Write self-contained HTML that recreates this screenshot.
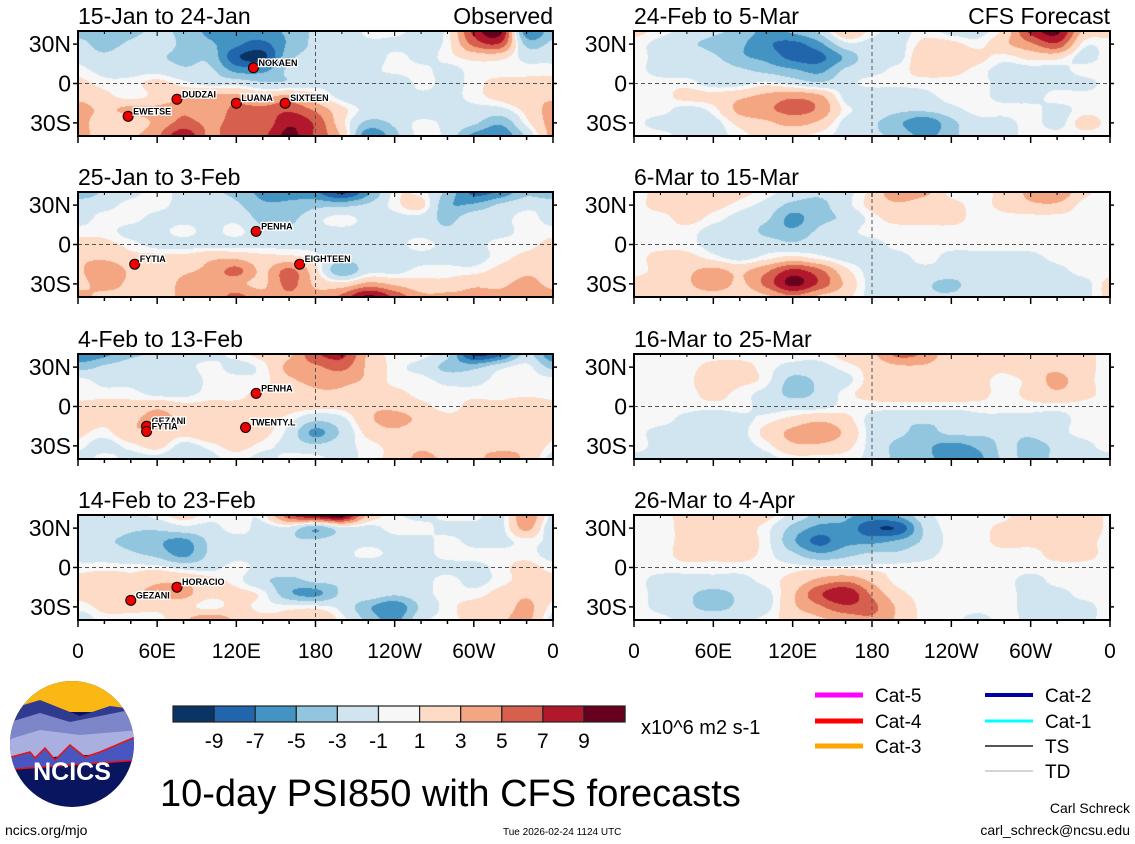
<!DOCTYPE html>
<html><head><meta charset="utf-8">
<style>
body{margin:0;background:#fff;width:1135px;height:844px;overflow:hidden;position:relative;font-family:"Liberation Sans",sans-serif}
canvas{position:absolute}
svg{position:absolute;left:0;top:0}
</style></head><body>
<div id="maps"></div>
<svg id="ov" width="1135" height="844"></svg>
<script>
// ---- data: PSI850 anomaly grids, rows lat 40N..40S step 10, cols lon 0..340 step 20 ----
const lonTicks=["0","60E","120E","180","120W","60W","0"];
const latTicks=["30N","0","30S"];
const titles=["15-Jan to 24-Jan","25-Jan to 3-Feb","4-Feb to 13-Feb","14-Feb to 23-Feb","24-Feb to 5-Mar","6-Mar to 15-Mar","16-Mar to 25-Mar","26-Mar to 4-Apr"];
const levels=[-9,-7,-5,-3,-1,1,3,5,7,9];
const levelColors=["#0b3466","#2166ac","#4393c3","#92c5de","#d1e5f0","#f7f7f7","#fddbc7","#f4a582","#d6604d","#b2182b","#67001f"];
const p1=[
[-3,-3,-3,-2,-3,-5,-6,-5,-4,-2,-2,0,0,-1,0,7,9,-6],
[-2,-3,-2,-1,-3,-4,-6,-7,-4,-2,-2,-1,-1,-1,0,5,6,-3],
[-1,-2,-1,-2,-3,-3,-8,-9,-3,-2,-2,-2,0,-1,0,1,1,-1],
[0,-1,-1,-1,-2,-2,-5,-5,-2,-2,-1,-1,0,0,-1,0,0,0],
[1,0,0,1,0,-1,-1,-2,-2,-1,-1,-1,-2,0,-1,0,1,1],
[2,1,0,1,2,3,3,2,3,1,-1,-2,-1,-1,-1,0,1,2],
[3,2,3,3,4,3,5,5,6,4,1,-1,-1,-2,-1,-1,-1,1],
[3,1,1,3,5,4,5,5,8,6,1,-3,-2,0,-1,-2,-4,0],
[3,1,2,4,8,4,6,6,9,6,2,-6,-3,0,-1,-5,-6,-2]];
const p2=[
[-4,-2,-1,0,-1,-2,-3,-5,-5,-6,-9,-5,0,0,-3,-7,-6,-3],
[-1,-1,0,0,-1,-1,-2,-4,-4,-3,-3,-2,0,1,-4,-4,-2,-1],
[-1,0,0,-1,-1,-1,-1,-3,-3,-1,0,-1,-1,-1,-3,-1,-1,0],
[0,0,-1,-1,0,-1,0,-2,-2,-1,-1,-1,-1,-1,-2,-1,-1,0],
[1,1,0,-1,-1,-1,-1,-1,-1,-1,-2,-1,-1,0,-1,-1,0,0],
[2,2,1,1,1,2,2,1,1,0,-2,-1,-1,-1,-1,-1,0,1],
[2,4,2,1,2,3,5,2,5,1,-4,-1,-1,0,0,0,1,2],
[2,3,2,1,3,4,3,2,5,2,1,3,2,1,1,2,2,3],
[3,2,2,1,3,3,5,3,4,3,5,9,6,3,3,3,3,4]];
const p3=[
[-6,-5,-3,-2,-1,-1,0,1,2,6,7,2,0,0,-2,-9,-7,-2],
[-3,-2,-1,-1,-1,0,-1,0,3,4,5,2,0,-1,-3,-3,-1,0],
[0,-1,-1,-2,-2,0,0,0,2,3,3,2,0,0,-1,-1,0,0],
[0,0,0,-1,-1,0,0,1,1,2,2,1,1,0,0,0,0,0],
[1,1,1,2,1,1,1,1,1,1,1,2,2,1,0,1,1,2],
[2,1,2,3,2,2,2,1,0,-2,-1,2,3,2,1,1,2,2],
[1,0,2,2,1,2,2,1,-1,-5,-2,1,2,1,1,1,2,2],
[0,-1,0,1,-1,0,1,0,-1,-2,-1,0,1,2,1,2,2,2],
[-1,0,-1,-1,-2,-1,0,-1,0,0,-1,0,1,3,2,2,3,2]];
const p4=[
[-1,-1,-1,0,1,0,0,0,6,9,10,2,0,-1,0,0,-1,4],
[-2,-1,-2,-2,-1,-1,0,-1,-1,-4,-1,-1,0,0,-1,-1,-1,3],
[-1,-2,-3,-4,-5,-2,-1,-1,-2,-2,-1,-1,-1,-1,0,-1,-1,0],
[-1,-1,-2,-3,-5,-2,-1,-1,-1,-1,-1,0,-1,-1,0,0,0,0],
[0,0,0,0,-1,-1,0,-1,-1,-1,-1,-2,-2,-1,-1,-1,0,1],
[1,2,1,2,2,1,0,-2,-3,-2,-2,-2,-1,-1,0,-1,0,1],
[1,2,2,3,3,1,1,0,-4,-5,-2,-1,-2,-1,0,0,1,2],
[0,1,1,1,1,0,1,0,0,0,-1,-4,-6,-2,0,1,1,3],
[-1,0,0,0,2,4,2,1,1,2,0,-3,-5,-1,0,1,2,3]];
const p5=[
[1,0,-1,-2,-3,-5,-4,-2,2,0,-1,0,-1,-1,1,7,9,2],
[0,-1,-2,-3,-4,-6,-7,-5,-1,-1,-1,1,1,0,2,4,6,0],
[0,-1,-1,-2,-4,-5,-7,-7,-4,-1,-1,2,2,1,0,1,1,-1],
[0,-1,-1,-1,-2,-3,-4,-5,-2,-1,0,1,1,0,-1,-1,-1,0],
[0,0,0,-1,-1,0,-1,-2,-1,0,0,0,0,0,-1,-1,-1,-1],
[0,0,1,1,2,3,4,3,-1,-2,-2,-1,0,0,-1,-1,0,0],
[0,0,-1,0,3,4,5,4,0,-1,-2,-2,-1,0,0,0,-1,0],
[0,-1,-1,-1,1,2,3,2,-1,-2,-4,-6,-3,-1,-1,0,-1,1],
[0,0,-1,-1,0,1,1,0,-1,-2,-3,-5,-3,-1,-1,0,0,0]];
const p6=[
[0,1,1,2,1,0,-1,-2,-1,1,4,3,0,0,1,3,4,1],
[0,1,1,1,0,-1,-3,-3,-1,1,2,1,1,0,1,2,2,0],
[0,0,1,0,-1,-2,-5,-3,-2,0,1,1,1,0,0,0,0,0],
[0,0,0,-1,-1,-3,-4,-2,-1,0,0,0,0,0,0,0,0,0],
[0,0,0,-1,-1,-1,-2,-1,-1,-1,0,0,0,0,0,0,0,0],
[0,1,1,0,-1,0,1,0,-1,-1,-1,0,-1,-1,-1,-1,0,0],
[0,1,2,3,2,4,7,5,1,-1,-1,-1,-1,-1,-1,-2,-1,0],
[1,1,2,4,2,5,9,6,2,-1,-1,-2,-3,-1,-1,-1,-1,-1],
[1,1,1,1,1,2,4,2,1,-1,-1,-2,-2,-1,-1,-1,-1,-1]];
const p7=[
[0,0,0,0,0,0,0,0,1,2,5,4,1,1,2,2,2,1],
[0,0,0,1,1,0,-1,-1,0,1,2,2,1,1,1,2,2,1],
[0,0,0,2,1,0,-3,-2,-1,1,1,1,1,1,0,1,3,1],
[0,0,0,1,0,-1,-3,-2,0,1,1,1,1,1,0,1,2,1],
[0,0,0,0,0,-1,-1,-1,0,0,0,0,0,0,0,0,0,0],
[0,0,-1,-2,-1,0,1,2,1,-1,-2,-2,-2,-1,-1,-1,-1,0],
[0,-1,-1,-2,-1,1,3,4,2,-1,-2,-3,-2,-2,-2,-2,-1,0],
[0,-1,-1,-1,-1,0,2,2,1,-1,-3,-4,-5,-4,-2,-3,-2,-1],
[-1,-1,-1,-1,-1,-1,0,0,0,-1,-3,-4,-5,-5,-2,-3,-2,-1]];
const p8=[
[0,0,1,1,1,1,-1,-3,-4,-5,-4,-1,0,0,0,2,2,2],
[0,0,1,2,1,0,-3,-5,-5,-8,-8,-2,0,0,1,2,2,2],
[0,0,1,2,1,0,-4,-7,-5,-5,-4,-2,0,0,1,1,1,1],
[0,0,1,1,1,0,-2,-4,-3,-2,-2,-1,0,0,0,0,1,1],
[0,0,0,0,0,0,0,0,0,0,0,0,0,0,0,0,0,0],
[0,-1,-1,-1,-1,0,1,3,4,2,0,0,0,0,0,-1,0,0],
[0,-1,-2,-3,-2,-1,2,6,8,4,1,0,0,0,0,-1,-1,0],
[0,-1,-2,-3,-2,-1,2,4,6,5,2,0,0,0,0,-1,-1,-1],
[0,0,-1,-1,-1,0,1,2,3,4,2,0,0,-1,0,-1,-2,-1]];
const grids=[p1,p2,p3,p4,p5,p6,p7,p8];
const storms=[[0,"NOKAEN",133,12],[0,"DUDZAI",75,-12],[0,"LUANA",120,-15],[0,"SIXTEEN",157,-15],[0,"EWETSE",38,-25],
[1,"PENHA",135,10],[1,"FYTIA",43,-15],[1,"EIGHTEEN",168,-15],
[2,"PENHA",135,10],[2,"GEZANI",52,-15],[2,"FYTIA",52,-19],[2,"TWENTY.L",127,-16],
[3,"HORACIO",75,-15],[3,"GEZANI",40,-25]];

const cols=[78,634], tops=[31,192,354,515], W=[475,476], H=105;
function panelGeom(i){return {x:cols[i<4?0:1], y:tops[i%4], w:W[i<4?0:1], h:H};}
function lonX(g,lon){return g.x+lon/360*g.w;}
function latY(g,lat){return g.y+(40-lat)/80*g.h;}
function cr(p0,p1,p2,p3,t){return 0.5*((2*p1)+(-p0+p2)*t+(2*p0-5*p1+4*p2-p3)*t*t+(-p0+3*p1-3*p2+p3)*t*t*t);}
function hex(c){return [parseInt(c.slice(1,3),16),parseInt(c.slice(3,5),16),parseInt(c.slice(5,7),16)];}
const rgb=levelColors.map(hex);
function sample(G,gx,gy){
  const nx=G[0].length, ny=G.length;
  const ix=Math.floor(gx), iy=Math.floor(gy), tx=gx-ix, ty=gy-iy;
  const row=r=>{r=Math.max(0,Math.min(ny-1,r));const R=G[r];const f=c=>R[((c%nx)+nx)%nx];
    return cr(f(ix-1),f(ix),f(ix+1),f(ix+2),tx);};
  return cr(row(iy-1),row(iy),row(iy+1),row(iy+2),ty);
}
const maps=document.getElementById('maps');
grids.forEach((G,i)=>{
  const g=panelGeom(i);
  const cv=document.createElement('canvas');
  
  
  cv.width=g.w;cv.height=g.h;cv.style.left=g.x+'px';cv.style.top=g.y+'px';
  const ctx=cv.getContext('2d');const im=ctx.createImageData(g.w,g.h);
  for(let py=0;py<g.h;py++){const gy=(py+0.5)/g.h*(G.length-1);
    for(let px=0;px<g.w;px++){const gx=(px+0.5)/g.w*G[0].length;
      let v=sample(G,gx,gy);v=v+0.6*Math.tanh(v*3);
      let k=0;while(k<levels.length&&v>=levels[k])k++;
      const c=rgb[k],o=(py*g.w+px)*4;im.data[o]=c[0];im.data[o+1]=c[1];im.data[o+2]=c[2];im.data[o+3]=255;}}
  ctx.putImageData(im,0,0);maps.appendChild(cv);
});

const NS='http://www.w3.org/2000/svg', ov=document.getElementById('ov');
function mk(tag,attrs,parent){const e=document.createElementNS(NS,tag);for(const k in attrs)e.setAttribute(k,attrs[k]);(parent||ov).appendChild(e);return e;}
function txt(s,x,y,size,anchor,parent,fill){const t=mk('text',{x:x,y:y,'font-size':size,'text-anchor':anchor||'start',fill:fill||'#000','font-family':'Liberation Sans, sans-serif'},parent);t.textContent=s;return t;}

grids.forEach((G,i)=>{
  const g=panelGeom(i);
  const grp=mk('g',{});
  
  
  mk('line',{x1:g.x,x2:g.x+g.w,y1:latY(g,0),y2:latY(g,0),stroke:'#555','stroke-width':1,'stroke-dasharray':'4,3'},grp);
  mk('line',{x1:lonX(g,180),x2:lonX(g,180),y1:g.y,y2:g.y+g.h,stroke:'#555','stroke-width':1,'stroke-dasharray':'4,3'},grp);
  mk('rect',{x:g.x,y:g.y,width:g.w,height:g.h,fill:'none',stroke:'#000','stroke-width':2},grp);
  for(let lon=0;lon<=360;lon+=20){const x=lonX(g,lon),big=lon%60==0;
    mk('line',{x1:x,x2:x,y1:g.y+g.h,y2:g.y+g.h+(big?7:4),stroke:'#000','stroke-width':1.5},grp);
    mk('line',{x1:x,x2:x,y1:g.y,y2:g.y+(big?5:3),stroke:'#000','stroke-width':1},grp);}
  [30,0,-30].forEach((lat,j)=>{const y=latY(g,lat);
    mk('line',{x1:g.x-5,x2:g.x,y1:y,y2:y,stroke:'#000','stroke-width':1.5},grp);
    mk('line',{x1:g.x+g.w,x2:g.x+g.w+4,y1:y,y2:y,stroke:'#000','stroke-width':1.5},grp);
    const t=txt(latTicks[j],g.x-7,y+8,23,'end',grp);
    
    });
  const tt=txt(titles[i],g.x,g.y-7,23,'start',grp);
  
  
  if(i==0){const o=txt('Observed',g.x+g.w,g.y-7,23,'end',grp);}
  if(i==4){const o=txt('CFS Forecast',g.x+g.w,g.y-7,23,'end',grp);}
  if(i%4==3){lonTicks.forEach((s,j)=>{const t=txt(s,lonX(g,j*60),g.y+g.h+38,21,'middle',grp);
    
    });}
});
storms.forEach(s=>{const g=panelGeom(s[0]);const x=lonX(g,s[2]),y=latY(g,s[3]);
  const c=mk('circle',{cx:x,cy:y,r:5,fill:'#e00',stroke:'#000','stroke-width':1});
  
  
  const t=txt(s[1],x+5,y-2,9,'start',null,'#000');t.setAttribute('font-weight','bold');
  t.setAttribute('stroke','#fff');t.setAttribute('stroke-width','2.5');t.setAttribute('paint-order','stroke');
  
  });

// colorbar
const cb=mk('g',{});


const cbx=173,cbw=41.1,cby=706,cbh=16;
levelColors.forEach((c,k)=>{const r=mk('rect',{x:cbx+k*cbw,y:cby,width:cbw,height:cbh,fill:c,stroke:'#222','stroke-width':1.2},cb);
  });
levels.forEach((v,k)=>{const t=txt(String(v),cbx+(k+1)*cbw,cby+cbh+26,21,'middle',cb);
  });
const u=txt('x10^6 m2 s-1',641,734,20,'start');

// legend
const leg=[["Cat-5","#ff00ff",815,695,5],["Cat-4","#ff0000",815,721,5],["Cat-3","#ffa500",815,746,5],["Cat-2","#0000a0",985,695,4],["Cat-1","#00ffff",985,721,3],["TS","#555",985,746,2],["TD","#aaa",985,771,1]];
leg.forEach(l=>{const g=mk('g',{});
  mk('line',{x1:l[2],x2:l[2]+48,y1:l[3],y2:l[3],stroke:l[1],'stroke-width':l[4]},g);
  txt(l[0],l[2]+60,l[3]+7,19,'start',g);});

// logo
const lg=mk('g',{});
const cp=mk('clipPath',{id:'lc'},lg);mk('ellipse',{cx:72,cy:744,rx:62,ry:63},cp);
const li=mk('g',{'clip-path':'url(#lc)'},lg);
mk('rect',{x:0,y:680,width:140,height:130,fill:'#0a1560'},li);
mk('rect',{x:0,y:680,width:140,height:32,fill:'#fbb714'},li);
mk('path',{d:'M0 712 L40 700 L80 716 L110 706 L140 710 L140 740 L0 745Z',fill:'#303a8f'},li);
mk('path',{d:'M0 725 L40 713 L70 722 L140 708 L140 740 L0 760Z',fill:'#7d86c8'},li);
mk('path',{d:'M0 742 L40 730 L80 735 L140 730 L140 752 L0 760Z',fill:'#a9b0e0'},li);
mk('path',{d:'M0 760 L30 752 L35 758 L45 748 L55 760 L70 745 L85 757 L100 752 L140 735 L140 760 L0 770Z',fill:'#4a56c0',stroke:'#e11','stroke-width':1.5},li);
const nt=txt('NCICS',72,780,25,'middle',lg,'#fff');nt.setAttribute('font-weight','bold');

const tl=txt('10-day PSI850 with CFS forecasts',160,806,38,'start');
const a=txt('Carl Schreck',1130,813,14,'end');
const e=txt('carl_schreck@ncsu.edu',1130,835,14,'end');
const w=txt('ncics.org/mjo',5,835,14,'start');
const d=txt('Tue 2026-02-24 1124 UTC',503,835,10,'start');
</script>
</body></html>
